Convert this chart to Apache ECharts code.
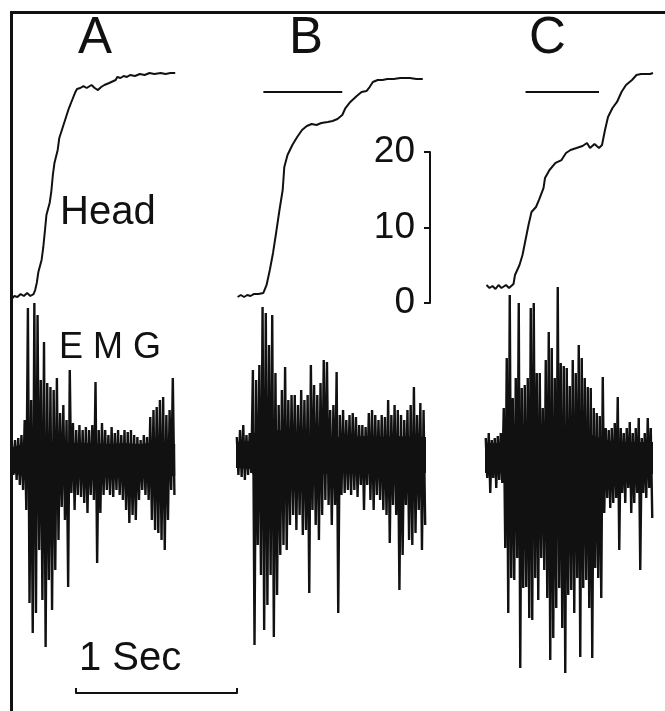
<!DOCTYPE html>
<html>
<head>
<meta charset="utf-8">
<script src="https://cdn.jsdelivr.net/npm/echarts@6/dist/echarts.min.js"></script>
<style>
  html, body { margin: 0; padding: 0; background: #fff; }
  #chart { width: 665px; height: 711px; }
</style>
</head>
<body>
<div id="chart"></div>
<script>
// head position, [time (s), angle (deg)]
var headA = [[0.01,0.26],[0.02,0.53],[0.04,0.40],[0.06,0.79],[0.08,0.53],[0.10,0.93],[0.12,0.53],[0.14,0.79],
  [0.15,1.32],[0.16,2.25],[0.17,3.71],[0.19,5.30],[0.20,6.89],[0.21,9.01],[0.22,11.26],[0.24,12.85],[0.25,14.30],
  [0.26,16.56],[0.27,18.15],[0.29,19.87],[0.30,21.46],[0.32,22.78],[0.34,24.11],[0.36,25.43],[0.38,26.49],
  [0.40,27.55],[0.41,27.95],[0.43,28.08],[0.45,28.34],[0.47,28.08],[0.48,28.34],[0.50,28.48],[0.52,28.08],
  [0.54,27.81],[0.56,28.21],[0.58,28.48],[0.61,28.74],[0.65,29.14],[0.66,29.54],[0.68,29.40],[0.70,29.67],
  [0.72,29.54],[0.74,29.80],[0.77,29.67],[0.80,29.93],[0.83,29.80],[0.86,30.07],[0.89,29.93],[0.93,30.07],
  [0.96,29.93],[0.99,30.07],[1.02,30.07]];
var headB = [[0.01,0.40],[0.03,0.66],[0.05,0.40],[0.07,0.66],[0.09,0.53],[0.11,0.79],[0.12,0.53],[0.14,0.79],
  [0.17,0.93],[0.19,1.99],[0.21,3.97],[0.23,6.23],[0.25,9.01],[0.27,11.92],[0.29,14.57],[0.30,17.62],[0.32,19.21],
  [0.35,20.53],[0.38,21.59],[0.41,22.52],[0.44,23.05],[0.47,23.31],[0.50,23.18],[0.53,23.44],[0.57,23.58],
  [0.60,23.71],[0.63,23.97],[0.66,24.50],[0.68,25.43],[0.71,26.23],[0.75,27.02],[0.78,27.55],[0.81,27.68],
  [0.83,28.21],[0.85,28.87],[0.88,29.14],[0.91,29.14],[0.94,29.27],[0.98,29.27],[1.02,29.40],[1.08,29.40],
  [1.12,29.27],[1.16,29.27]];
var headC = [[0.01,1.99],[0.03,1.59],[0.05,1.85],[0.07,1.46],[0.09,1.99],[0.11,1.59],[0.14,1.99],[0.16,1.59],
  [0.19,2.12],[0.20,3.31],[0.23,4.64],[0.25,5.96],[0.27,7.95],[0.29,9.93],[0.31,11.66],[0.34,12.32],[0.36,13.25],
  [0.39,14.83],[0.40,16.16],[0.43,17.22],[0.47,18.15],[0.51,18.54],[0.54,19.47],[0.57,19.87],[0.61,20.13],
  [0.65,20.40],[0.68,20.79],[0.70,20.13],[0.73,20.66],[0.76,20.13],[0.78,20.53],[0.80,22.52],[0.82,24.24],
  [0.85,25.43],[0.88,26.23],[0.91,27.55],[0.94,28.48],[0.98,29.14],[1.01,29.80],[1.04,29.93],[1.06,29.93],
  [1.07,29.67],[1.10,29.93],[1.12,30.07]];

// stimulus bars above B and C: [start, end] in s, level in deg
var markB = [0.17, 0.66];
var markC = [0.27, 0.76];
var markLevel = 27.55;

// EMG: one column every emgStep s, peak up / peak down (mV)
var emgStep = 0.02;
var emgA_hi = [0.18,0.2,0.22,0.25,0.4,1.52,0.6,1.57,1.45,0.8,1.18,0.77,0.73,0.7,0.82,0.47,0.55,0.4,0.9,0.37,
  0.3,0.35,0.3,0.33,0.3,0.35,0.78,0.3,0.37,0.3,0.25,0.33,0.27,0.3,0.25,0.3,0.28,0.3,0.25,0.23,
  0.2,0.25,0.23,0.43,0.5,0.53,0.6,0.63,0.45,0.5,0.82];
var emgA_lo = [-0.15,-0.2,-0.25,-0.3,-0.5,-1.43,-1.73,-1.53,-0.9,-1.4,-1.87,-1.2,-1.5,-1.1,-0.8,-0.47,-0.6,-1.27,-0.33,-0.5,
  -0.35,-0.37,-0.43,-0.53,-0.35,-0.4,-1.03,-0.53,-0.35,-0.3,-0.35,-0.37,-0.3,-0.35,-0.4,-0.5,-0.63,-0.55,-0.6,-0.4,
  -0.3,-0.35,-0.4,-0.6,-0.7,-0.73,-0.8,-0.9,-0.6,-0.3,-0.35];
var emgB_hi = [0.18,0.25,0.3,0.2,0.22,0.85,0.75,0.9,1.48,1.42,1.1,1.4,0.82,0.5,0.65,0.88,0.55,0.6,0.6,0.5,
  0.65,0.55,0.6,0.9,0.7,0.6,0.72,0.95,0.93,0.45,0.5,0.83,0.4,0.45,0.35,0.4,0.42,0.38,0.3,0.3,
  0.28,0.42,0.45,0.4,0.35,0.4,0.38,0.55,0.4,0.5,0.45,0.4,0.35,0.45,0.5,0.68,0.4,0.52,0.45];
var emgB_lo = [-0.2,-0.22,-0.25,-0.2,-0.18,-1.9,-0.9,-1.2,-1.75,-1.5,-1.2,-1.82,-1.4,-1.0,-0.9,-0.95,-0.7,-0.6,-0.75,-0.6,
  -0.8,-0.75,-1.38,-0.55,-0.7,-0.85,-0.6,-0.45,-0.5,-0.7,-0.5,-1.58,-0.4,-0.38,-0.35,-0.4,-0.35,-0.42,-0.3,-0.55,
  -0.3,-0.45,-0.55,-0.4,-0.45,-0.55,-0.6,-0.88,-0.5,-0.6,-1.35,-1.0,-0.5,-0.85,-0.9,-0.78,-0.55,-0.95,-0.7];
var emgC_hi = [0.2,0.25,0.18,0.2,0.22,0.25,0.5,1.0,1.63,0.6,0.8,1.55,0.7,0.73,0.8,1.5,1.55,0.85,0.85,0.5,
  0.98,1.26,1.1,0.8,1.71,0.95,0.92,0.9,0.72,0.98,0.85,1.13,1.0,0.8,0.71,0.7,0.5,0.45,0.42,0.81,
  0.3,0.28,0.3,0.35,0.61,0.3,0.25,0.3,0.36,0.25,0.3,0.4,0.2,0.25,0.4,0.3];
var emgC_lo = [-0.2,-0.35,-0.2,-0.3,-0.22,-0.25,-0.9,-1.55,-1.2,-1.22,-1.0,-2.1,-1.3,-1.29,-1.6,-1.62,-1.2,-1.42,-1.0,-1.12,
  -1.4,-2.02,-1.8,-1.5,-1.3,-1.7,-2.15,-1.37,-1.32,-1.55,-1.2,-1.99,-1.3,-1.22,-1.5,-2.0,-1.1,-1.2,-1.4,-0.55,
  -0.4,-0.5,-0.45,-0.4,-0.92,-0.35,-0.45,-0.3,-0.55,-0.45,-0.35,-1.12,-0.35,-0.4,-0.3,-0.6];

// solid middle of the EMG trace, [time (s), half width (mV)]
var coreA = [[0.0,0.12],[0.1,0.18],[0.2,0.2],[0.3,0.18],[0.4,0.17],[0.5,0.17],[0.6,0.16],[0.7,0.17],[0.8,0.16],[0.9,0.18],[1.02,0.16]];
var coreB = [[0.0,0.13],[0.09,0.14],[0.11,0.22],[0.2,0.26],[0.3,0.24],[0.4,0.21],[0.5,0.2],[0.6,0.18],[0.7,0.18],[0.8,0.19],[0.9,0.18],[1.0,0.19],[1.1,0.18],[1.18,0.18]];
var coreC = [[0.0,0.15],[0.12,0.15],[0.14,0.23],[0.25,0.3],[0.4,0.32],[0.55,0.3],[0.7,0.24],[0.8,0.18],[0.9,0.16],[1.0,0.16],[1.12,0.16]];

var scaleTicks = [0, 20];   // deg scale bar
var timeBar = [0, 1];       // 1 s bar

var FONT = 'Liberation Sans';
var INK = '#111';

// each column: up peak then down peak, half a step apart
function zigzag(hi, lo) {
  var out = [];
  hi.forEach(function (v, i) {
    out.push([emgStep * (i + 0.25), v]);
    out.push([emgStep * (i + 0.75), lo[i]]);
  });
  return out;
}
function neg(arr) { return arr.map(function (d) { return [d[0], -d[1]]; }); }

var panelLeft = [11, 236, 485];
var emgMid = [460, 455, 458];

var grids = [], xAxes = [], yAxes = [], series = [];
panelLeft.forEach(function (l, k) {
  grids.push({ left: l, top: 13.1, width: 193.2, height: 324.65 });
  xAxes.push({ type: 'value', gridIndex: k, min: 0, max: 1.2, show: false });
  yAxes.push({ type: 'value', gridIndex: k, min: -5, max: 38, show: false });
});
panelLeft.forEach(function (l, k) {
  grids.push({ left: l, top: emgMid[k] - 250, width: 193.2, height: 500 });
  xAxes.push({ type: 'value', gridIndex: 3 + k, min: 0, max: 1.2, show: false });
  yAxes.push({ type: 'value', gridIndex: 3 + k, min: -2.5, max: 2.5, show: false });
});
// degree scale bar
grids.push({ left: 430, top: 152, width: 10, height: 151 });
xAxes.push({ type: 'value', gridIndex: 6, show: false });
yAxes.push({
  type: 'value', gridIndex: 6, min: scaleTicks[0], max: scaleTicks[1], interval: 10, position: 'left',
  axisLine: { show: true, lineStyle: { color: INK, width: 2 } },
  axisTick: { show: true, length: 6, lineStyle: { color: INK, width: 2 } },
  axisLabel: { fontSize: 37, fontFamily: FONT, color: INK, margin: 15 },
  splitLine: { show: false }
});
// time bar
grids.push({ left: 76, top: 683, width: 161, height: 10 });
xAxes.push({
  type: 'value', gridIndex: 7, min: timeBar[0], max: timeBar[1], interval: 1, position: 'top',
  axisLine: { show: true, lineStyle: { color: INK, width: 2 } },
  axisTick: { show: true, length: 5, lineStyle: { color: INK, width: 2 } },
  axisLabel: { show: false },
  splitLine: { show: false }
});
yAxes.push({ type: 'value', gridIndex: 7, show: false });

[headA, headB, headC].forEach(function (d, k) {
  series.push({
    type: 'line', xAxisIndex: k, yAxisIndex: k, data: d, showSymbol: false,
    lineStyle: { color: INK, width: 2 }
  });
});
[[1, markB], [2, markC]].forEach(function (m) {
  series.push({
    type: 'line', xAxisIndex: m[0], yAxisIndex: m[0], showSymbol: false,
    data: [[m[1][0], markLevel], [m[1][1], markLevel]],
    lineStyle: { color: INK, width: 2 }
  });
});
[coreA, coreB, coreC].forEach(function (c, k) {
  [c, neg(c)].forEach(function (d) {
    series.push({
      type: 'line', xAxisIndex: 3 + k, yAxisIndex: 3 + k, data: d, showSymbol: false,
      lineStyle: { width: 0 }, areaStyle: { color: INK, opacity: 1 }
    });
  });
});
[[emgA_hi, emgA_lo], [emgB_hi, emgB_lo], [emgC_hi, emgC_lo]].forEach(function (e, k) {
  series.push({
    type: 'line', xAxisIndex: 3 + k, yAxisIndex: 3 + k, data: zigzag(e[0], e[1]),
    showSymbol: false,
    lineStyle: { color: INK, width: 2.4, join: 'bevel' }
  });
});

function label(text, left, top, size) {
  return { text: text, left: left, top: top, padding: 0,
    textStyle: { fontSize: size, fontWeight: 'normal', fontFamily: FONT, color: INK } };
}

var myChart = echarts.init(document.getElementById('chart'));
var option = {
  backgroundColor: '#fff',
  animation: false,
  title: [
    label('A', 78, 13, 51),
    label('B', 289, 13, 51),
    label('C', 529, 13, 51),
    label('Head', 60, 193, 40),
    label('E M G', 59, 330, 36),
    label('1 Sec', 79, 639, 40)
  ],
  grid: grids,
  xAxis: xAxes,
  yAxis: yAxes,
  series: series,
  graphic: [{
    type: 'polyline',
    shape: { points: [[11.5, 711], [11.5, 12.5], [665, 12.5]] },
    style: { stroke: INK, lineWidth: 3, fill: null }
  }]
};
myChart.setOption(option);
</script>
</body>
</html>
